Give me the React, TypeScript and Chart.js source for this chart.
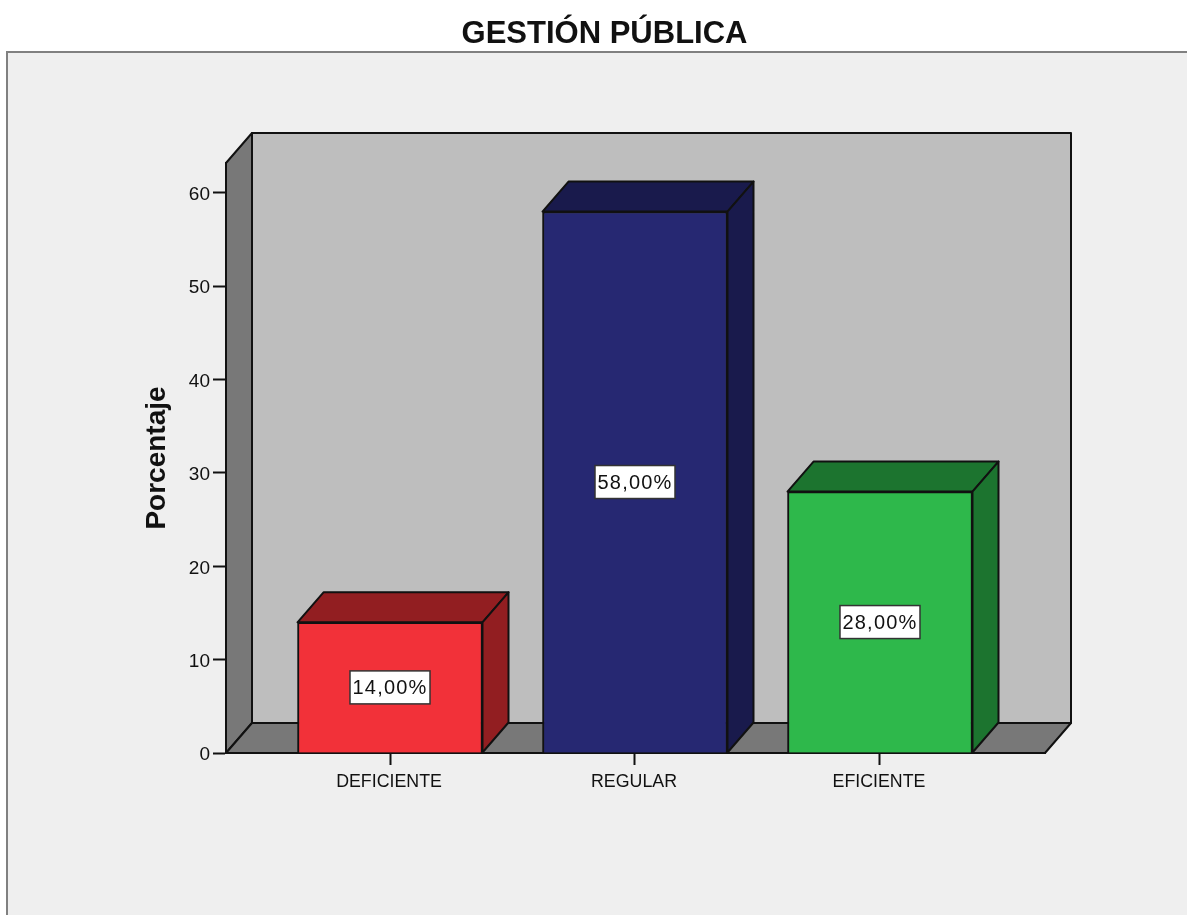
import React, { useEffect, useRef } from "react";
import { Chart, registerables } from "chart.js";

Chart.register(...registerables);

const categories = ["DEFICIENTE", "REGULAR", "EFICIENTE"];
const percentages = [14, 58, 28];
const yTicks = [0, 10, 20, 30, 40, 50, 60];
const frontColors = ["#f23139", "#262872", "#2eb84b"];
const shadeColors = ["#921e21", "#191a4c", "#1c742f"];

const TITLE = "GESTIÓN PÚBLICA";
const Y_TITLE = "Porcentaje";
const FONT = '"Liberation Sans", Arial, sans-serif';
const DEPTH_X = 26;
const DEPTH_Y = 30;

function poly(ctx: CanvasRenderingContext2D, pts: number[][], fill: string) {
  ctx.beginPath();
  pts.forEach(([x, y], i) => (i ? ctx.lineTo(x, y) : ctx.moveTo(x, y)));
  ctx.closePath();
  ctx.fillStyle = fill;
  ctx.fill();
  ctx.lineJoin = "round";
  ctx.lineWidth = 2;
  ctx.strokeStyle = "#111";
  ctx.stroke();
}

// Page background, panel frame, heading and the box the bars stand in.
const roomPlugin = {
  id: "room",
  beforeDraw(chart: any) {
    const { ctx, chartArea: a, width, height } = chart;
    ctx.save();
    ctx.fillStyle = "#ffffff";
    ctx.fillRect(0, 0, width, height);
    ctx.fillStyle = "#efefef";
    ctx.strokeStyle = "#808080";
    ctx.lineWidth = 2;
    ctx.fillRect(7, 52, width, height);
    ctx.strokeRect(7, 52, width + 10, height + 10);

    ctx.fillStyle = "#111";
    ctx.font = `bold 31px ${FONT}`;
    ctx.textAlign = "center";
    ctx.textBaseline = "middle";
    ctx.fillText(TITLE, 604.5, 34);

    const backL = a.left + DEPTH_X;
    const backR = a.right + DEPTH_X;
    const backT = a.top - DEPTH_Y;
    const backB = a.bottom - DEPTH_Y;
    poly(ctx, [[backL, backT], [backR, backT], [backR, backB], [backL, backB]], "#bebebe");
    poly(ctx, [[a.left, a.top], [backL, backT], [backL, backB], [a.left, a.bottom]], "#787878");
    poly(ctx, [[a.left, a.bottom], [backL, backB], [backR, backB], [a.right, a.bottom]], "#787878");
    ctx.restore();
  },
  // Top and side faces sit behind each bar's front face.
  beforeDatasetsDraw(chart: any) {
    const { ctx } = chart;
    const bars = chart.getDatasetMeta(0).data;
    ctx.save();
    bars.forEach((bar: any, i: number) => {
      const half = bar.width / 2;
      const l = bar.x - half;
      const r = bar.x + half;
      const t = bar.y;
      const b = bar.base;
      poly(ctx, [[l, t], [l + DEPTH_X, t - DEPTH_Y], [r + DEPTH_X, t - DEPTH_Y], [r, t]], shadeColors[i]);
      poly(ctx, [[r, t], [r + DEPTH_X, t - DEPTH_Y], [r + DEPTH_X, b - DEPTH_Y], [r, b]], shadeColors[i]);
    });
    ctx.restore();
  },
  // Value captions in the middle of each bar's front face.
  afterDatasetsDraw(chart: any) {
    const { ctx } = chart;
    const bars = chart.getDatasetMeta(0).data;
    ctx.save();
    ctx.font = `20px ${FONT}`;
    (ctx as any).letterSpacing = "1.2px";
    ctx.textAlign = "center";
    ctx.textBaseline = "middle";
    bars.forEach((bar: any, i: number) => {
      const text = percentages[i].toFixed(2).replace(".", ",") + "%";
      const cy = (bar.y + bar.base) / 2;
      const w = 80;
      const h = 33;
      ctx.fillStyle = "#ffffff";
      ctx.fillRect(bar.x - w / 2, cy - h / 2, w, h);
      ctx.lineWidth = 1.5;
      ctx.strokeStyle = "#333";
      ctx.strokeRect(bar.x - w / 2, cy - h / 2, w, h);
      ctx.fillStyle = "#111";
      ctx.fillText(text, bar.x, cy + 1);
    });
    ctx.restore();
  },
};

export default function App() {
  const ref = useRef<HTMLCanvasElement>(null);

  useEffect(() => {
    const chart = new Chart(ref.current as HTMLCanvasElement, {
      type: "bar",
      data: {
        datasets: [
          {
            data: categories.map((_, i) => ({ x: i, y: percentages[i] })),
            backgroundColor: frontColors,
            borderColor: "#111",
            borderWidth: 2,
            barThickness: 185,
          },
        ],
      },
      options: {
        responsive: false,
        animation: false,
        layout: { padding: { left: 0, top: 163, right: 142, bottom: 0 } },
        plugins: { legend: { display: false }, title: { display: false }, tooltip: { enabled: false } },
        scales: {
          x: {
            type: "linear",
            offset: false,
            min: -0.6694,
            max: 2.6735,
            afterBuildTicks: (s: any) => {
              s.ticks = categories.map((_, i) => ({ value: i }));
            },
            afterFit: (s: any) => {
              s.height = 162;
            },
            ticks: {
              callback: (v: any) => categories[v],
              autoSkip: false,
              maxRotation: 0,
              minRotation: 0,
              padding: 6,
              labelOffset: -1,
              color: "#111",
              font: { family: FONT, size: 17.8 },
            },
            grid: { offset: false, drawOnChartArea: false, tickLength: 12, tickColor: "#111", tickWidth: 2 },
            border: { color: "#111", width: 2 },
          },
          y: {
            min: 0,
            max: 63.2,
            afterBuildTicks: (s: any) => {
              s.ticks = yTicks.map((value) => ({ value }));
            },
            afterFit: (s: any) => {
              s.width = 226;
            },
            ticks: {
              padding: 3,
              labelOffset: 2,
              color: "#111",
              font: { family: FONT, size: 19 },
            },
            grid: { drawOnChartArea: false, tickLength: 13, tickColor: "#111", tickWidth: 2 },
            border: { color: "#111", width: 2 },
            title: {
              display: true,
              text: Y_TITLE,
              color: "#111",
              font: { family: FONT, size: 28, weight: "bold" },
              padding: { top: 140, bottom: 0 },
            },
          },
        },
      },
      plugins: [roomPlugin],
    } as any);
    return () => chart.destroy();
  }, []);

  return (
    <canvas
      ref={ref}
      width={1187}
      height={915}
      style={{ position: "absolute", left: 0, top: 0, display: "block" }}
    />
  );
}
